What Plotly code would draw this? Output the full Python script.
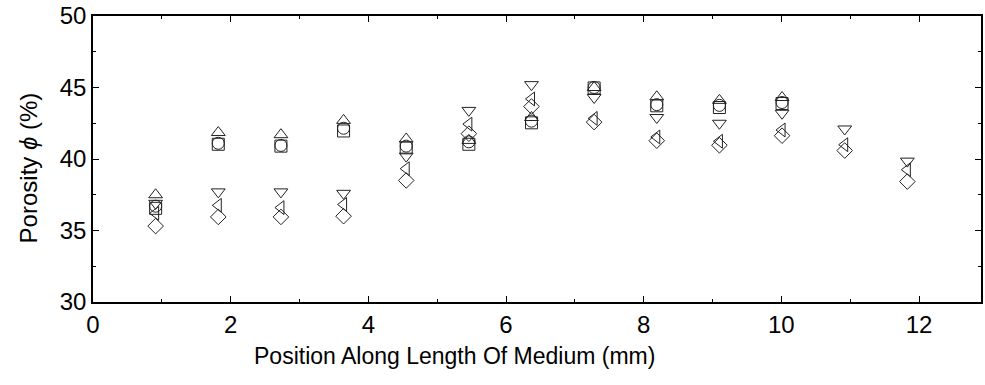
import plotly.graph_objects as go

position_mm = [0.91, 1.82, 2.73, 3.64, 4.55, 5.46, 6.37, 7.28, 8.19, 9.10, 10.01, 10.92, 11.83]

porosity_square = [36.55, 41.03, 40.9, 41.96, 40.78, 41.03, 42.53, 44.97, 43.72, 43.6, 43.88]
porosity_circle = [36.7, 41.1, 40.95, 42.15, 40.9, 41.2, 42.65, 45.0, 43.8, 43.75, 43.95]
porosity_tri_up = [37.5, 41.85, 41.7, 42.7, 41.4, 41.3, 42.9, 45.0, 44.35, 44.1, 44.3]
porosity_tri_down = [36.9, 37.7, 37.7, 37.6, 40.2, 43.4, 45.2, 44.3, 42.9, 42.5, 43.2, 42.1, 39.85]
porosity_tri_left = [36.2, 36.76, 36.6, 36.82, 39.32, 42.44, 44.2, 42.84, 41.54, 41.24, 42.03, 41.0, 39.25]
porosity_diamond = [35.31, 35.95, 35.95, 36.0, 38.5, 41.77, 43.67, 42.58, 41.28, 40.96, 41.63, 40.59, 38.42]

x_ticks = [0, 2, 4, 6, 8, 10, 12]
y_ticks = [30, 35, 40, 45, 50]

series = [
    (porosity_square, "square-open"),
    (porosity_circle, "circle-open"),
    (porosity_tri_up, "triangle-up-open"),
    (porosity_tri_down, "triangle-down-open"),
    (porosity_tri_left, "triangle-left-open"),
    (porosity_diamond, "diamond-open"),
]

fig = go.Figure()
for vals, sym in series:
    fig.add_trace(go.Scatter(
        x=position_mm[:len(vals)], y=vals, mode="markers",
        marker=dict(symbol=sym, size=12, color="#222222", line=dict(width=1, color="#222222")),
        showlegend=False,
    ))

font = dict(family="Liberation Sans, Arial, sans-serif", size=24, color="black")
title_font = dict(family="Liberation Sans, Arial, sans-serif", size=23, color="black")

axis_common = dict(
    showline=True, linecolor="black", linewidth=1.5, mirror="ticks",
    ticks="inside", ticklen=6, tickwidth=1, tickcolor="black",
    showgrid=False, zeroline=False, tickfont=font, ticklabeloverflow="allow",
)

fig.update_xaxes(
    range=[0, 12.9], tickvals=x_ticks, ticktext=[str(t) for t in x_ticks],
    minor=dict(dtick=1, tick0=0, ticks="inside", ticklen=3, tickwidth=1, tickcolor="black"),
    **axis_common,
)
fig.update_yaxes(
    range=[30, 50], tickvals=y_ticks, ticktext=[str(t) for t in y_ticks],
    minor=dict(dtick=2.5, tick0=30, ticks="inside", ticklen=3, tickwidth=1, tickcolor="black"),
    **axis_common,
)

fig.add_annotation(
    text="Position Along Length Of Medium (mm)", xref="paper", yref="paper",
    x=(455 - 93) / 890, y=0, yshift=-54, xanchor="center", yanchor="middle",
    showarrow=False, font=title_font,
)
fig.add_annotation(
    text="Porosity <i>ϕ</i> (%)", xref="paper", yref="paper",
    x=0, xshift=-65, y=(302 - 167) / 289, xanchor="center", yanchor="middle",
    textangle=-90, showarrow=False, font=font,
)

fig.update_layout(
    width=985, height=385,
    margin=dict(l=93, r=2, t=13, b=83),
    paper_bgcolor="white", plot_bgcolor="white",
    font=font,
)

fig.write_html("out.html")
